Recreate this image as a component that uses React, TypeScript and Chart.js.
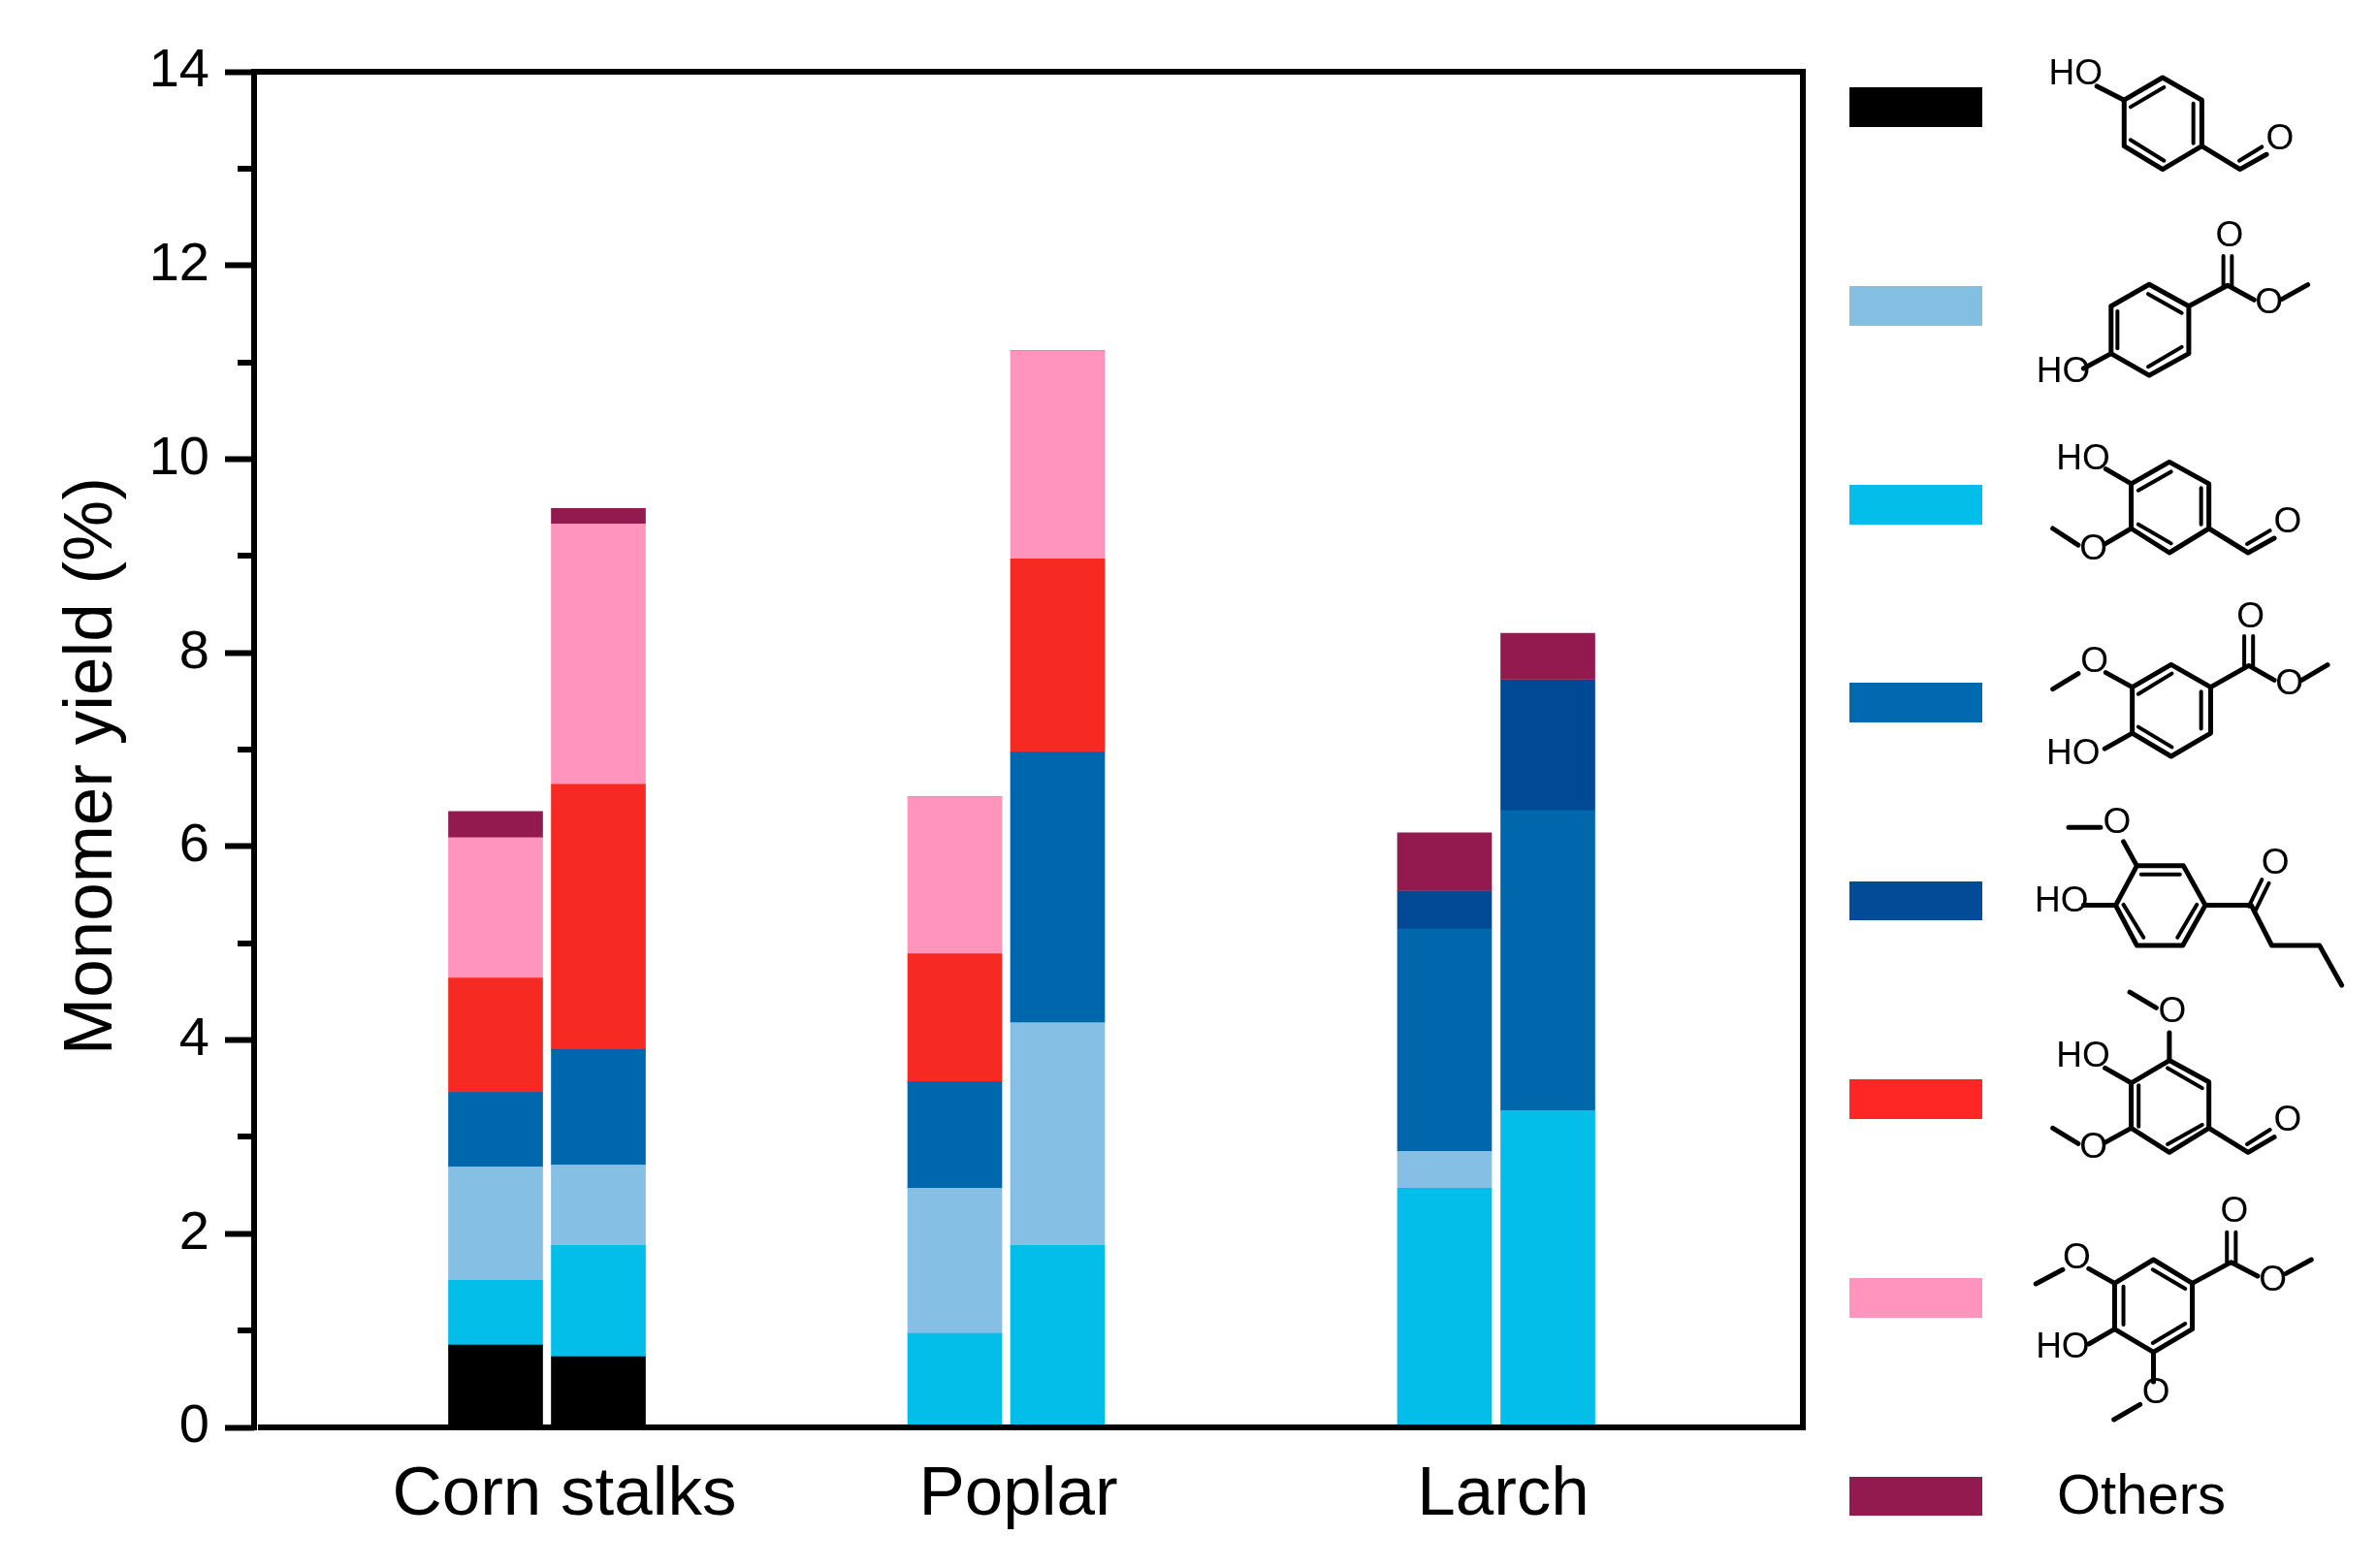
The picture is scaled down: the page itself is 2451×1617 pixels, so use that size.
import React, { useEffect, useRef } from "react";
import { Chart, registerables } from "chart.js";

Chart.register(...registerables);

const FONT = '"Liberation Sans", Arial, sans-serif';

// x slots of the six bars on the linear x axis (two bars per feedstock)
const barSlots = [2.49, 3.55, 7.225, 8.285, 12.275, 13.34];
const categories = ["Corn stalks", "Poplar", "Larch"];
const categorySlots = [3.2, 7.88, 12.88];

const hydroxybenzaldehyde = [0.85, 0.73, 0, 0, 0, 0];
const vanillin = [0.67, 1.15, 0.97, 1.88, 2.47, 3.27];
const methylHydroxybenzoate = [1.17, 0.83, 1.5, 2.3, 0.38, 0];
const methylVanillate = [0.77, 1.19, 1.1, 2.79, 2.3, 3.1];
const butyrovanillone = [0, 0, 0, 0, 0.39, 1.35];
const syringaldehyde = [1.18, 2.74, 1.32, 2.0, 0, 0];
const methylSyringate = [1.45, 2.69, 1.62, 2.15, 0, 0];
const others = [0.27, 0.16, 0, 0, 0.6, 0.48];

const C_BLACK = "#000000";
const C_LIGHT = "#85BFE4";
const C_CYAN = "#02BEE8";
const C_BLUE = "#0067AC";
const C_NAVY = "#004A95";
const C_RED = "#F72A23";
const C_PINK = "#FF95BC";
const C_MAROON = "#921A4F";

const stackOrder = [
  { label: "4-hydroxybenzaldehyde", values: hydroxybenzaldehyde, color: C_BLACK },
  { label: "vanillin", values: vanillin, color: C_CYAN },
  { label: "methyl 4-hydroxybenzoate", values: methylHydroxybenzoate, color: C_LIGHT },
  { label: "methyl vanillate", values: methylVanillate, color: C_BLUE },
  { label: "butyrovanillone", values: butyrovanillone, color: C_NAVY },
  { label: "syringaldehyde", values: syringaldehyde, color: C_RED },
  { label: "methyl syringate", values: methylSyringate, color: C_PINK },
  { label: "Others", values: others, color: C_MAROON },
];

// Legend swatches, top to bottom
const legendSwatches = [
  { color: "#000000", top: 90, h: 41 },
  { color: "#82BFE0", top: 295, h: 41 },
  { color: "#02BEE8", top: 500, h: 41 },
  { color: "#0169B0", top: 704, h: 41 },
  { color: "#024B96", top: 909, h: 40 },
  { color: "#FF2626", top: 1113, h: 41 },
  { color: "#FF95BC", top: 1318, h: 41 },
  { color: "#921A4F", top: 1523, h: 40 },
];

type P = [number, number];
const z1 = (x: number, y: number): P => [1880 + x / 2.746, 30 + y / 2.8];
const z2 = (x: number, y: number): P => [1880 + x / 2.746, 590 + y / 2.8];
const z3 = (x: number, y: number): P => [1880 + x / 2.746, 1150 + y / 3];

const ringBonds: P[][] = [
  // molecule 1
  [z1(852, 205), z1(961, 140), z1(1072, 205), z1(1072, 338), z1(961, 405), z1(852, 338), z1(852, 205)],
  [z1(852, 205), z1(775, 165)],
  [z1(1072, 338), z1(1180, 405), z1(1255, 362)],
  // molecule 2
  [z1(815, 800), z1(923, 737), z1(1035, 800), z1(1035, 937), z1(923, 1000), z1(815, 937), z1(815, 800)],
  [z1(815, 937), z1(737, 980)],
  [z1(1035, 800), z1(1145, 740), z1(1220, 782)],
  [z1(1298, 780), z1(1372, 738)],
  // molecule 3
  [z1(872, 1313), z1(980, 1250), z1(1092, 1313), z1(1092, 1442), z1(980, 1512), z1(872, 1442), z1(872, 1313)],
  [z1(872, 1313), z1(800, 1270)],
  [z1(872, 1442), z1(797, 1487)],
  [z1(722, 1490), z1(650, 1442)],
  [z1(1092, 1442), z1(1203, 1512), z1(1277, 1470)],
  // molecule 4
  [z2(875, 332), z2(985, 267), z2(1097, 332), z2(1097, 465), z2(985, 532), z2(875, 465), z2(875, 332)],
  [z2(875, 332), z2(800, 290)],
  [z2(722, 293), z2(650, 338)],
  [z2(875, 465), z2(797, 510)],
  [z2(1097, 332), z2(1205, 270), z2(1277, 312)],
  [z2(1355, 312), z2(1428, 268)],
  // molecule 5
  [z2(888, 848), z2(1020, 848), z2(1082, 962), z2(1018, 1078), z2(888, 1078), z2(828, 962), z2(888, 848)],
  [z2(888, 848), z2(850, 778)],
  [z2(785, 737), z2(695, 737)],
  [z2(828, 962), z2(737, 962)],
  [z2(1082, 962), z2(1212, 962), z2(1270, 1078), z2(1405, 1078), z2(1468, 1193)],
  // molecule 6
  [z2(980, 1410), z2(1092, 1472), z3(1092, 40), z3(980, 115), z3(872, 40), z2(872, 1475), z2(980, 1410)],
  [z2(868, 1213), z2(943, 1258)],
  [z2(980, 1330), z2(980, 1410)],
  [z2(872, 1475), z2(798, 1432)],
  [z3(872, 40), z3(797, 85)],
  [z3(722, 88), z3(650, 40)],
  [z3(1092, 40), z3(1203, 115), z3(1277, 68)],
  // molecule 7
  [z3(825, 520), z3(935, 447), z3(1045, 520), z3(1045, 662), z3(935, 733), z3(825, 662), z3(825, 520)],
  [z3(825, 520), z3(752, 475)],
  [z3(678, 478), z3(602, 522)],
  [z3(825, 662), z3(752, 708)],
  [z3(935, 733), z3(935, 825)],
  [z3(897, 895), z3(823, 942)],
  [z3(1045, 520), z3(1155, 455), z3(1230, 498)],
  [z3(1310, 490), z3(1382, 447)],
];

const innerBonds: P[][] = [
  [z1(870, 225), z1(965, 168)],
  [z1(1048, 215), z1(1048, 330)],
  [z1(870, 320), z1(965, 380)],
  [z1(1178, 380), z1(1242, 340)],
  [z1(833, 815), z1(833, 922)],
  [z1(920, 765), z1(1015, 820)],
  [z1(920, 975), z1(1015, 918)],
  [z1(1133, 740), z1(1133, 655)],
  [z1(1157, 740), z1(1157, 655)],
  [z1(892, 1332), z1(985, 1278)],
  [z1(1070, 1325), z1(1070, 1430)],
  [z1(892, 1430), z1(985, 1485)],
  [z1(1200, 1487), z1(1265, 1448)],
  [z2(892, 352), z2(987, 293)],
  [z2(1070, 345), z2(1070, 452)],
  [z2(892, 447), z2(987, 505)],
  [z2(1192, 270), z2(1192, 185)],
  [z2(1217, 270), z2(1217, 185)],
  [z2(900, 873), z2(1010, 873)],
  [z2(1058, 960), z2(1003, 1055)],
  [z2(850, 960), z2(907, 1055)],
  [z2(1205, 965), z2(1242, 888)],
  [z2(1225, 975), z2(1262, 898)],
  [z2(975, 1432), z2(1073, 1490)],
  [z2(893, 1482), z3(893, 35)],
  [z3(975, 90), z3(1073, 30)],
  [z3(1200, 90), z3(1265, 45)],
  [z3(850, 530), z3(850, 648)],
  [z3(933, 478), z3(1025, 537)],
  [z3(933, 705), z3(1025, 645)],
  [z3(1143, 455), z3(1143, 362)],
  [z3(1168, 455), z3(1168, 362)],
];

const hoLabels: P[] = [
  z1(647, 160), z1(612, 1020), z1(668, 1270),
  z2(640, 555), z2(607, 980), z2(668, 1428),
  z3(610, 750),
];

const oLabels: P[] = [
  z1(1293, 310), z1(1150, 590), z1(1262, 785), z1(765, 1495), z1(1315, 1418),
  z2(768, 252), z2(1210, 122), z2(1320, 316), z2(832, 718), z2(1280, 835), z2(988, 1262),
  z3(765, 92), z3(1315, 10),
  z3(718, 435), z3(1164, 290), z3(1273, 503), z3(942, 852),
];

const path = (ctx: CanvasRenderingContext2D, pts: P[]) => {
  ctx.beginPath();
  pts.forEach((p, i) => (i ? ctx.lineTo(p[0], p[1]) : ctx.moveTo(p[0], p[1])));
  ctx.stroke();
};

const framePlugin = {
  id: "frame",
  afterDatasetsDraw(chart: any) {
    const { ctx, chartArea: a, scales } = chart;
    const t = 3;
    ctx.save();
    ctx.fillStyle = "#000";
    ctx.fillRect(a.left - t, a.top - t, 6, a.bottom - a.top + 2 * t);
    ctx.fillRect(a.left - t, a.top - t, a.right - a.left + 2 * t, 6);
    ctx.fillRect(a.right - t, a.top - t, 6, a.bottom - a.top + 2 * t);
    ctx.fillRect(a.left + t + 1, a.bottom - t, a.right - a.left - 1, 6);
    [1, 3, 5, 7, 9, 11, 13].forEach((v) => {
      const y = Math.round(scales.y.getPixelForValue(v));
      ctx.fillRect(a.left - 17, y - t, 17, 6);
    });
    ctx.restore();
  },
  afterDraw(chart: any) {
    const { ctx } = chart;
    ctx.save();
    ctx.fillStyle = "#000";
    ctx.textBaseline = "alphabetic";

    // y-axis title
    ctx.save();
    ctx.translate(115, 790);
    ctx.rotate(-Math.PI / 2);
    ctx.font = `71px ${FONT}`;
    ctx.textAlign = "center";
    ctx.fillText("Monomer yield (%)", 0, 0);
    ctx.restore();

    // legend swatches
    legendSwatches.forEach((s) => {
      ctx.fillStyle = s.color;
      ctx.fillRect(1907, s.top, 137, s.h);
    });
    ctx.fillStyle = "#000";
    ctx.strokeStyle = "#000";
    ctx.lineCap = "round";
    ctx.lineJoin = "round";
    ctx.lineWidth = 5;
    ringBonds.forEach((b) => path(ctx, b));
    ctx.lineWidth = 4;
    innerBonds.forEach((b) => path(ctx, b));

    ctx.font = `37px ${FONT}`;
    ctx.textAlign = "left";
    hoLabels.forEach((p) => ctx.fillText("HO", p[0] - 3, p[1]));
    ctx.textAlign = "center";
    oLabels.forEach((p) => ctx.fillText("O", p[0], p[1] + 13));

    ctx.font = `58px ${FONT}`;
    ctx.textAlign = "left";
    ctx.fillText("Others", 2121, 1561);
    ctx.restore();
  },
};

export default function App() {
  const ref = useRef<HTMLCanvasElement>(null);
  useEffect(() => {
    document.body.style.margin = "0";
    document.body.style.background = "#fff";
    const chart = new Chart(ref.current as HTMLCanvasElement, {
      type: "bar",
      data: {
        datasets: stackOrder.map((s) => ({
          label: s.label,
          data: barSlots.map((x, i) => ({ x, y: s.values[i] })),
          backgroundColor: s.color,
          borderWidth: 0,
          barThickness: 97,
        })),
      } as any,
      options: {
        responsive: false,
        animation: false,
        devicePixelRatio: 1,
        layout: { padding: { left: 0, top: 74, right: 592, bottom: 0 } },
        plugins: { legend: { display: false }, tooltip: { enabled: false }, title: { display: false } },
        scales: {
          x: {
            type: "linear",
            stacked: true,
            offset: false,
            min: 0,
            max: 15.97,
            afterFit: (s: any) => {
              s.height = 145;
            },
            afterBuildTicks: (s: any) => {
              s.ticks = categorySlots.map((value) => ({ value }));
            },
            grid: { display: false, offset: false },
            border: { display: false },
            ticks: {
              autoSkip: false,
              maxRotation: 0,
              minRotation: 0,
              padding: 20,
              color: "#000",
              font: { family: FONT, size: 71 },
              callback: (v: any) => categories[categorySlots.indexOf(Number(v))] ?? "",
            },
          },
          y: {
            stacked: true,
            min: 0,
            max: 14,
            afterFit: (s: any) => {
              s.width = 262;
            },
            grid: {
              drawOnChartArea: false,
              drawTicks: true,
              tickLength: 30,
              tickWidth: 6,
              tickColor: "#000",
            },
            border: { display: false },
            ticks: {
              stepSize: 2,
              padding: 16,
              color: "#000",
              font: { family: FONT, size: 56 },
            },
          },
        },
      } as any,
      plugins: [framePlugin as any],
    });
    return () => chart.destroy();
  }, []);
  return (
    <div style={{ position: "absolute", left: 0, top: 0, width: 2451, height: 1617, overflow: "hidden", background: "#fff" }}>
      <canvas ref={ref} width={2451} height={1617} style={{ display: "block" }} />
    </div>
  );
}
